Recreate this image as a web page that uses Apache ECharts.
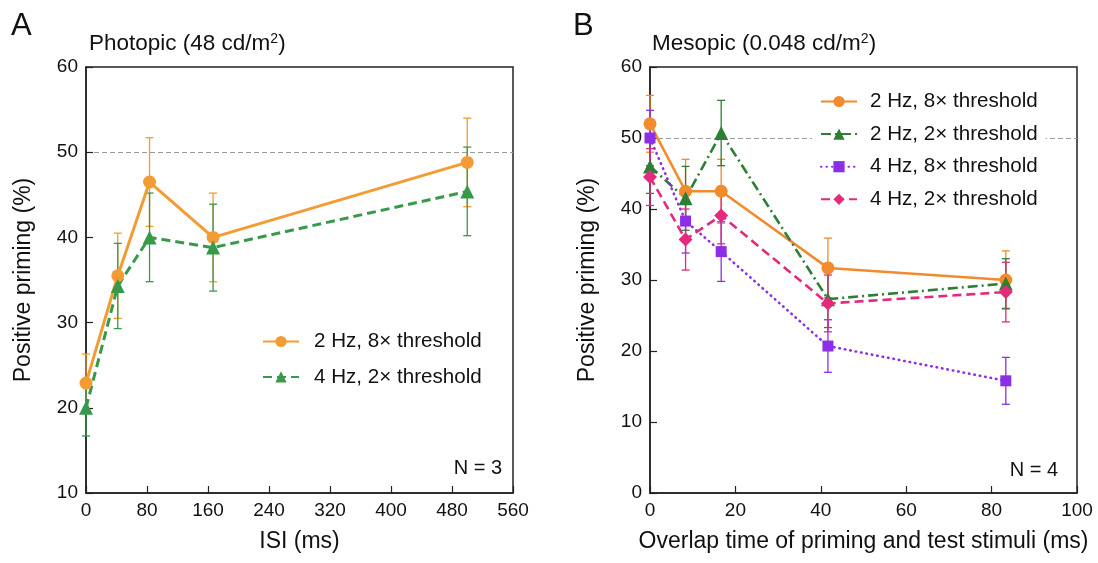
<!DOCTYPE html>
<html>
<head>
<meta charset="utf-8">
<script src="https://cdn.jsdelivr.net/npm/echarts@6/dist/echarts.min.js"></script>
<style>
html,body{margin:0;padding:0;background:#fff;}
#chart{width:1098px;height:563px;}
</style>
</head>
<body>
<div id="chart"></div>
<script>
// ---------- Panel A: Photopic ----------
const isiA = [0, 41.67, 83.33, 166.67, 500];
const a_2Hz8x = [22.9, 35.5, 46.5, 40.0, 48.8];
const a_2Hz8x_err = [3.4, 5.0, 5.2, 5.2, 5.2];
const a_4Hz2x = [20.0, 34.3, 40.0, 38.8, 45.4];
const a_4Hz2x_err = [3.3, 5.0, 5.2, 5.1, 5.2];
const xTicksA = [0, 560, 80];   // min, max, interval
const yTicksA = [10, 60, 10];

// ---------- Panel B: Mesopic ----------
const overlapB = [0, 8.33, 16.67, 41.67, 83.33];
const b_2Hz8x = [52.0, 42.5, 42.5, 31.7, 30.0];
const b_2Hz8x_err = [4.0, 4.5, 4.5, 4.2, 4.1];
const b_2Hz2x = [46.0, 41.5, 50.7, 27.3, 29.5];
const b_2Hz2x_err = [3.8, 4.5, 4.6, 4.0, 3.5];
const b_4Hz8x = [50.0, 38.3, 34.0, 20.7, 15.8];
const b_4Hz8x_err = [3.9, 4.5, 4.2, 3.7, 3.3];
const b_4Hz2x = [44.5, 35.7, 39.1, 26.7, 28.3];
const b_4Hz2x_err = [4.0, 4.3, 4.0, 4.0, 4.2];
const xTicksB = [0, 100, 20];
const yTicksB = [0, 60, 10];

const chanceLevel = 50;

const names = {
  s1: '2 Hz, 8\u00d7 threshold',
  s2: '2 Hz, 2\u00d7 threshold',
  s3: '4 Hz, 8\u00d7 threshold',
  s4: '4 Hz, 2\u00d7 threshold'
};

const FONT = '"Liberation Sans", Arial, Helvetica, sans-serif';
const C = {
  orangeA: '#F39C33',
  greenA: '#38994A',
  orangeB: '#F28A2E',
  greenB: '#2E7F36',
  purple: '#8C2EE8',
  pink: '#E42A7C'
};

const chart = echarts.init(document.getElementById('chart'), null, {renderer: 'canvas'});

function pts(xs, ys) { return xs.map((x, i) => [x, ys[i]]); }
function errPts(xs, ys, es) { return xs.map((x, i) => [x, ys[i], es[i]]); }

function errSeries(idx, xs, ys, es, color) {
  return {
    type: 'custom',
    xAxisIndex: idx, yAxisIndex: idx,
    silent: true,
    z: 1,
    data: errPts(xs, ys, es),
    encode: {x: 0, y: 1},
    renderItem: function (params, api) {
      const x = api.value(0), y = api.value(1), e = api.value(2);
      const top = api.coord([x, y + e]);
      const bot = api.coord([x, y - e]);
      const hw = 4;
      const st = {stroke: color, lineWidth: 1.3, fill: null};
      return {
        type: 'group',
        children: [
          {type: 'line', shape: {x1: top[0], y1: top[1], x2: bot[0], y2: bot[1]}, style: st},
          {type: 'line', shape: {x1: top[0] - hw, y1: top[1], x2: top[0] + hw, y2: top[1]}, style: st},
          {type: 'line', shape: {x1: bot[0] - hw, y1: bot[1], x2: bot[0] + hw, y2: bot[1]}, style: st}
        ]
      };
    }
  };
}

function lineSeries(idx, name, xs, ys, color, lineType, symbol, size, width, withRef, cap) {
  const s = {
    name: name,
    type: 'line',
    xAxisIndex: idx, yAxisIndex: idx,
    data: pts(xs, ys),
    symbol: symbol,
    symbolSize: size,
    showAllSymbol: true,
    z: 3,
    itemStyle: {color: color, borderWidth: 0},
    lineStyle: {color: color, width: width, type: lineType, cap: cap || 'butt'},
    animation: false
  };
  if (withRef) {
    s.markLine = {
      silent: true,
      symbol: 'none',
      label: {show: false},
      lineStyle: {color: '#9a9a9a', type: [5, 3], width: 1},
      data: [{yAxis: chanceLevel}],
      z: 0
    };
  }
  return s;
}

function xAxisCfg(idx, t, name) {
  return {
    type: 'value', gridIndex: idx,
    min: t[0], max: t[1], interval: t[2],
    name: name, nameLocation: 'middle', nameGap: 37,
    nameTextStyle: {fontSize: 23, color: '#111', fontFamily: FONT},
    axisLine: {show: true, onZero: false, lineStyle: {color: '#222', width: 1.5}},
    axisTick: {show: true, inside: true, length: 7, lineStyle: {color: '#222', width: 1.2}},
    axisLabel: {fontSize: 19, color: '#111', fontFamily: FONT, margin: 8},
    splitLine: {show: false}
  };
}
function yAxisCfg(idx, t, name) {
  return {
    type: 'value', gridIndex: idx,
    min: t[0], max: t[1], interval: t[2],
    name: name, nameLocation: 'middle', nameGap: 51,
    nameTextStyle: {fontSize: 23, color: '#111', fontFamily: FONT},
    axisLine: {show: true, onZero: false, lineStyle: {color: '#222', width: 1.5}},
    axisTick: {show: true, inside: true, length: 7, lineStyle: {color: '#222', width: 1.2}},
    axisLabel: {fontSize: 19, color: '#111', fontFamily: FONT, margin: 8},
    splitLine: {show: false}
  };
}

const titleRich = {
  t: {fontSize: 22.5, fontFamily: FONT, color: '#111'},
  s: {fontSize: 14, fontFamily: FONT, color: '#111', verticalAlign: 'top'}
};

const option = {
  animation: false,
  backgroundColor: '#fff',
  grid: [
    {left: 86, top: 67, width: 427, height: 426, show: true, borderColor: '#222', borderWidth: 1.5, backgroundColor: 'transparent'},
    {left: 650, top: 67, width: 427, height: 426, show: true, borderColor: '#222', borderWidth: 1.5, backgroundColor: 'transparent'}
  ],
  xAxis: [
    xAxisCfg(0, xTicksA, 'ISI (ms)'),
    xAxisCfg(1, xTicksB, 'Overlap time of priming and test stimuli (ms)')
  ],
  yAxis: [
    yAxisCfg(0, yTicksA, 'Positive priming (%)'),
    yAxisCfg(1, yTicksB, 'Positive priming (%)')
  ],
  legend: [
    {
      orient: 'vertical',
      left: 257, top: 326,
      itemWidth: 36, itemHeight: 14, itemGap: 14.4,
      textStyle: {fontSize: 20.6, color: '#111', fontFamily: FONT, padding: [0, 0, 0, 10]},
      data: [
        {name: 'A:' + names.s1},
        {name: 'A:' + names.s4}
      ],
      formatter: function (n) { return n.slice(2); },
      selectedMode: false
    },
    {
      orient: 'vertical',
      left: 812, top: 85,
      itemWidth: 36, itemHeight: 14, itemGap: 11.6,
      padding: [6, 8, 6, 8],
      backgroundColor: '#fff',
      textStyle: {fontSize: 20.6, color: '#111', fontFamily: FONT, padding: [0, 0, 0, 8]},
      data: [
        {name: 'B:' + names.s1},
        {name: 'B:' + names.s2},
        {name: 'B:' + names.s3},
        {name: 'B:' + names.s4}
      ],
      formatter: function (n) { return n.slice(2); },
      selectedMode: false,
      z: 10
    }
  ],
  graphic: [
    {type: 'text', left: 11, top: 11, style: {text: 'A', fontSize: 31, fontFamily: FONT, fill: '#111'}},
    {type: 'text', left: 573, top: 11, style: {text: 'B', fontSize: 31, fontFamily: FONT, fill: '#111'}},
    {type: 'text', left: 89, top: 32, style: {text: '{t|Photopic (48 cd/m}{s|2}{t|)}', rich: titleRich, fill: '#111'}},
    {type: 'text', left: 652, top: 32, style: {text: '{t|Mesopic (0.048 cd/m}{s|2}{t|)}', rich: titleRich, fill: '#111'}},
    {type: 'text', right: 596, top: 458, style: {text: 'N = 3', fontSize: 20, fontFamily: FONT, fill: '#111'}},
    {type: 'text', right: 40, top: 460, style: {text: 'N = 4', fontSize: 20, fontFamily: FONT, fill: '#111'}}
  ],
  series: [
    errSeries(0, isiA, a_2Hz8x, a_2Hz8x_err, C.orangeA),
    errSeries(0, isiA, a_4Hz2x, a_4Hz2x_err, C.greenA),
    lineSeries(0, 'A:' + names.s1, isiA, a_2Hz8x, C.orangeA, 'solid', 'circle', 13, 3, true),
    lineSeries(0, 'A:' + names.s4, isiA, a_4Hz2x, C.greenA, [9, 5], 'triangle', 14, 3, false),

    errSeries(1, overlapB, b_2Hz8x, b_2Hz8x_err, C.orangeB),
    errSeries(1, overlapB, b_2Hz2x, b_2Hz2x_err, C.greenB),
    errSeries(1, overlapB, b_4Hz8x, b_4Hz8x_err, C.purple),
    errSeries(1, overlapB, b_4Hz2x, b_4Hz2x_err, C.pink),
    lineSeries(1, 'B:' + names.s1, overlapB, b_2Hz8x, C.orangeB, 'solid', 'circle', 13, 2.6, true),
    lineSeries(1, 'B:' + names.s2, overlapB, b_2Hz2x, C.greenB, [10, 4, 2, 4], 'triangle', 14, 2.6, false),
    lineSeries(1, 'B:' + names.s3, overlapB, b_4Hz8x, C.purple, [0.5, 5], 'rect', 11, 2.6, false, 'round'),
    lineSeries(1, 'B:' + names.s4, overlapB, b_4Hz2x, C.pink, [9, 5], 'diamond', 14, 2.6, false)
  ]
};
chart.setOption(option);
</script>
</body>
</html>
